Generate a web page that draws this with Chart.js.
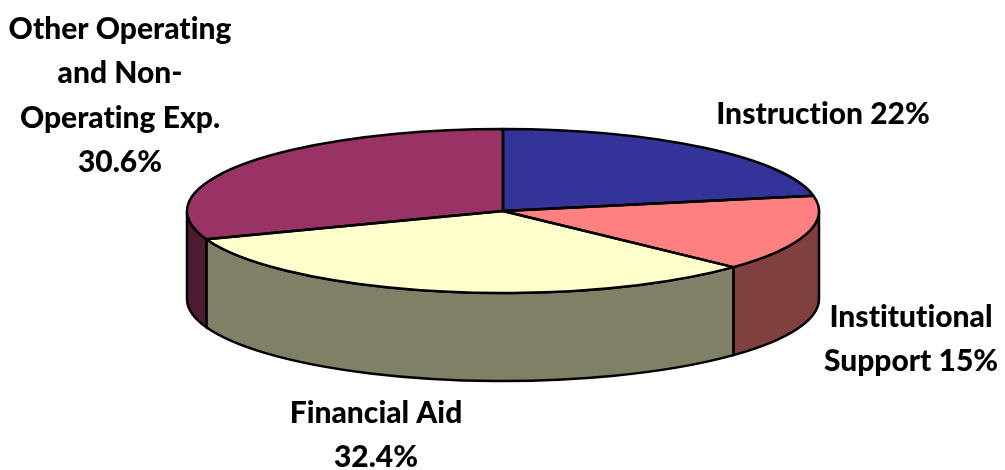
<!DOCTYPE html>
<html>
<head>
<meta charset="utf-8">
<title>Expenses</title>
<style>
  html, body { margin: 0; padding: 0; background: #fff; }
  canvas { display: block; }
</style>
<script src="https://cdn.jsdelivr.net/npm/chart.js@4"></script>
</head>
<body>
<canvas id="myChart" width="1005" height="470"></canvas>
<script>
const categories = ["Instruction", "Institutional Support", "Financial Aid", "Other Operating and Non-Operating Exp."];
const values = [22, 15, 32.4, 30.6];
const topColors = ["#333399", "#FF8080", "#FFFFCC", "#993366"];
const wallColors = ["#1A1A4D", "#804040", "#808066", "#4D1A33"];
const labelLines = [
  ["Instruction 22%"],
  ["Institutional", "Support 15%"],
  ["Financial Aid", "32.4%"],
  ["Other Operating", "and Non-", "Operating Exp.", "30.6%"],
];

// where the flattened pie and its labels sit on the page
const pie = { x: 503, y: 211, rx: 316, ry: 82, depth: 88 };
const labelSpots = [
  { x: 823, y: 114 },
  { x: 911, y: 317 },
  { x: 376, y: 413 },
  { x: 120, y: 29 },
];
const lineGap = 44.5;

// Chart.js has no 3D pie, so the arcs are squashed and the walls added here
const tiltPlugin = {
  id: "tilt",
  beforeDatasetsDraw(chart) {
    const ctx = chart.ctx;
    const arcs = chart.getDatasetMeta(0).data;

    arcs.forEach((arc, i) => {
      // only the part of the rim facing the viewer has a wall
      const from = Math.max(arc.startAngle, 0);
      const to = Math.min(arc.endAngle, Math.PI);
      if (to <= from) return;
      ctx.beginPath();
      ctx.ellipse(pie.x, pie.y, pie.rx, pie.ry, 0, from, to);
      ctx.ellipse(pie.x, pie.y + pie.depth, pie.rx, pie.ry, 0, to, from, true);
      ctx.closePath();
      ctx.fillStyle = wallColors[i];
      ctx.fill();
      ctx.lineWidth = 2.5;
      ctx.strokeStyle = "#000";
      ctx.stroke();
    });

    const props = arcs[0].getProps(["x", "y", "outerRadius"]);
    ctx.save();
    ctx.translate(pie.x, pie.y);
    ctx.scale(pie.rx / props.outerRadius, pie.ry / props.outerRadius);
    ctx.translate(-props.x, -props.y);
  },
  afterDatasetsDraw(chart) {
    const ctx = chart.ctx;
    ctx.restore();

    // outlines go on after the restore so the line width stays even
    chart.getDatasetMeta(0).data.forEach((arc) => {
      ctx.beginPath();
      ctx.moveTo(pie.x, pie.y);
      ctx.ellipse(pie.x, pie.y, pie.rx, pie.ry, 0, arc.startAngle, arc.endAngle);
      ctx.closePath();
      ctx.lineWidth = 2.5;
      ctx.lineJoin = "round";
      ctx.strokeStyle = "#000";
      ctx.stroke();
    });

    ctx.font = "900 30px Lato";
    ctx.textRendering = "optimizeSpeed";
    ctx.fillStyle = "#000";
    ctx.textAlign = "center";
    ctx.textBaseline = "middle";
    labelLines.forEach((lines, i) => {
      lines.forEach((line, n) => {
        ctx.fillText(line, labelSpots[i].x, labelSpots[i].y + n * lineGap);
      });
    });
  },
};

const canvas = document.getElementById("myChart");
const myChart = new Chart(canvas, {
  type: "pie",
  data: {
    labels: categories,
    datasets: [{
      data: values,
      backgroundColor: topColors,
      borderWidth: 0,
    }],
  },
  options: {
    responsive: false,
    animation: false,
    plugins: {
      legend: { display: false },
      tooltip: { enabled: false },
    },
  },
  plugins: [tiltPlugin],
});
</script>
</body>
</html>
